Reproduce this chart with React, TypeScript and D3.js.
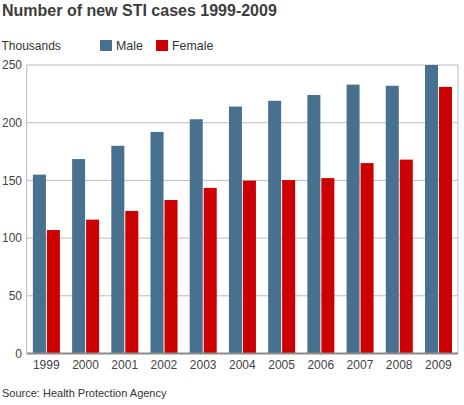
import React from "react";
import * as d3 from "d3";

const years = ["1999", "2000", "2001", "2002", "2003", "2004", "2005", "2006", "2007", "2008", "2009"];
const male = [155, 168.5, 180, 192, 203, 214, 219, 224, 233, 232, 250];
const female = [107, 116, 123.5, 133, 143.5, 149.8, 150.3, 152, 165, 168, 231];
const seriesNames = ["Male", "Female"];
const seriesColors = ["#48708f", "#cc0000"];
const yTicks = [0, 50, 100, 150, 200, 250];

const W = 464;
const H = 405;
const left = 26.7;
const right = 458;
const top = 65;
const bottom = 353.5;

export default function App() {
  const x = d3.scaleBand<string>().domain(years).range([left, right]).padding(0);
  const x1 = d3.scaleBand<string>().domain(seriesNames).range([6.2, 33.2]).paddingInner(0.07);
  const y = d3.scaleLinear().domain([0, 250]).range([bottom, top]);
  const data = [male, female];
  const font = "'Liberation Sans', Arial, sans-serif";

  return (
    <svg width={W} height={H} style={{ position: "absolute", left: 0, top: 0 }} fontFamily={font}>
      <rect x={0} y={0} width={W} height={H} fill="#fff" />
      <text x={2} y={15.5} fontSize={16} fontWeight="bold" fill="#3d3d3d">
        Number of new STI cases 1999-2009
      </text>
      <text x={1.5} y={49.5} fontSize={12} fill="#333">Thousands</text>
      {seriesNames.map((s, i) => {
        const lx = [100, 156][i];
        return (
          <g key={s}>
            <rect x={lx} y={40} width={12} height={11} fill={seriesColors[i]} />
            <text x={lx + 16} y={49.5} fontSize={12.4} fill="#333">{s}</text>
          </g>
        );
      })}
      {yTicks.map((t) => (
        <g key={t}>
          {t > 0 && (
            <line x1={left} x2={right} y1={y(t)} y2={y(t)} stroke="#bdbdbd" strokeWidth={1} />
          )}
          <text x={22} y={y(t)} dy="0.35em" textAnchor="end" fontSize={12} fill="#444">
            {t}
          </text>
        </g>
      ))}
      <line x1={left} x2={left} y1={top} y2={bottom} stroke="#bdbdbd" strokeWidth={1} />
      <line x1={right} x2={right} y1={top} y2={bottom} stroke="#bdbdbd" strokeWidth={1} />
      {years.map((yr, i) => (
        <g key={yr} transform={`translate(${x(yr)},0)`}>
          {seriesNames.map((s, j) => (
            <rect
              key={s}
              x={x1(s)}
              y={y(data[j][i])}
              width={x1.bandwidth()}
              height={y(0) - y(data[j][i])}
              fill={seriesColors[j]}
            />
          ))}
          <text x={x.bandwidth() / 2} y={369} textAnchor="middle" fontSize={12} fill="#444">
            {yr}
          </text>
        </g>
      ))}
      <line x1={left} x2={right} y1={bottom} y2={bottom} stroke="#8a8a8a" strokeWidth={2} />
      <text x={2} y={397} fontSize={11} fill="#333">Source: Health Protection Agency</text>
    </svg>
  );
}
